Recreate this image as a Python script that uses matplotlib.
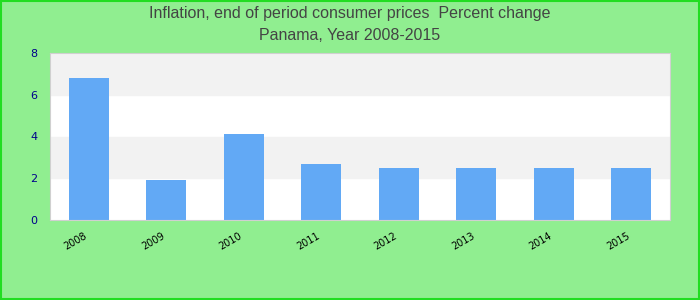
import matplotlib.pyplot as plt
from matplotlib.patches import Rectangle

# data
years = ['2008', '2009', '2010', '2011', '2012', '2013', '2014', '2015']
inflation = [6.8, 1.9, 4.1, 2.7, 2.5, 2.5, 2.5, 2.5]

fig = plt.figure(figsize=(7, 3), dpi=100, facecolor='#90ee90')
ax = fig.add_axes([50/700, 80/300, 620/700, 167/300])
ax.set_facecolor('white')

# alternating bands
for lo in [2, 6]:
    ax.axhspan(lo, lo + 2, color='#f2f2f2', zorder=0)

x = range(len(years))
ax.bar(x, inflation, width=0.52, color='#62a9f5', zorder=2)

ax.set_xlim(-0.5, len(years) - 0.5)
ax.set_ylim(0, 8)
ax.set_yticks([0, 2, 4, 6, 8])
ax.tick_params(axis='y', colors='#00008b', labelsize=8, length=0, pad=9)
ax.set_xticks(list(x))
ax.set_xticklabels(years, rotation=30, fontsize=7, ha='right')
ax.tick_params(axis='x', length=0, pad=8)
for s in ax.spines.values():
    s.set_color('#d0d0d0')

fig.text(0.5, 0.955, 'Inflation, end of period consumer prices  Percent change',
         ha='center', va='center', fontsize=11.5, color='#444444',
         family='Liberation Sans')
fig.text(0.5, 0.883, 'Panama, Year 2008-2015',
         ha='center', va='center', fontsize=11.5, color='#444444',
         family='Liberation Sans')

# figure border
fig.patches.append(Rectangle((0.001, 0.002), 0.997, 0.995, transform=fig.transFigure,
                             fill=False, edgecolor='#22dd22', linewidth=1.5))

fig.savefig('out.png', facecolor=fig.get_facecolor())
